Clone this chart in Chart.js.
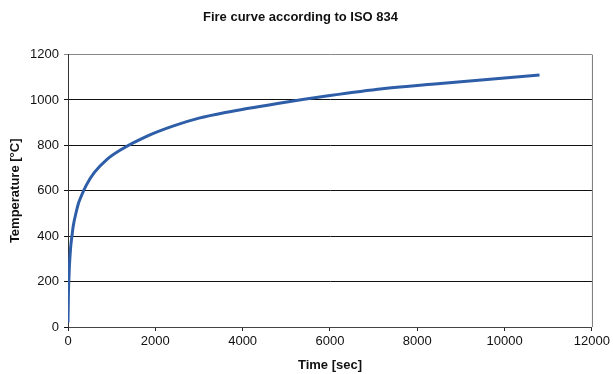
<!DOCTYPE html>
<html>
<head>
<meta charset="utf-8">
<script src="https://cdn.jsdelivr.net/npm/chart.js@4"></script>
<style>
  body { margin: 0; background: #fff; }
  canvas { display: block; }
</style>
</head>
<body>
<canvas id="fire-chart" width="613" height="374"></canvas>
<script>
// values (time in seconds, temperature in °C)
const timeSec = [0, 10, 20, 30, 60, 90, 120, 180, 240, 300, 420, 600, 900, 1200, 1800, 2400, 3000, 3600, 4800, 6000, 7200, 8400, 9600, 10800];
const tempC = [20, 150, 210, 260, 350, 400, 445, 500, 545, 575, 625, 680, 740, 780, 840, 885, 920, 945, 985, 1020, 1050, 1070, 1090, 1110];

const xTicks = [0, 2000, 4000, 6000, 8000, 10000, 12000];
const yTicks = [0, 200, 400, 600, 800, 1000, 1200];

const points = timeSec.map((t, i) => ({ x: t, y: tempC[i] }));

// grey frame on the right side of the plot area
const framePlugin = {
  id: "frame",
  afterDraw(chart) {
    const { ctx, chartArea } = chart;
    ctx.save();
    ctx.strokeStyle = "#777";
    ctx.lineWidth = 1;
    ctx.beginPath();
    ctx.moveTo(chartArea.right + 0.5, chartArea.top);
    ctx.lineTo(chartArea.right + 0.5, chartArea.bottom);
    ctx.stroke();
    ctx.restore();
  },
};

const chartConfig = {
  type: "scatter",
  data: {
    datasets: [
      {
        data: points,
        showLine: true,
        borderColor: "#2e5ea8",
        backgroundColor: "#2e5ea8",
        borderWidth: 3,
        pointRadius: 0,
        cubicInterpolationMode: "monotone",
      },
    ],
  },
  options: {
    responsive: false,
    animation: false,
    layout: { padding: { left: 8, right: 20, top: 0, bottom: 1 } },
    plugins: {
      legend: { display: false },
      tooltip: { enabled: false },
      title: {
        display: true,
        text: "Fire curve according to ISO 834",
        color: "#111",
        font: { family: "Liberation Sans", size: 13, weight: "bold" },
        padding: { top: 10, bottom: 29 },
      },
    },
    scales: {
      x: {
        type: "linear",
        min: 0,
        max: 12000,
        afterBuildTicks: (s) => { s.ticks = xTicks.map((v) => ({ value: v })); },
        afterFit: (s) => { s.height = 46; },
        ticks: {
          color: "#111",
          font: { family: "Liberation Sans", size: 13 },
          maxRotation: 0,
          padding: 3,
          callback: (v) => String(v),
        },
        grid: { drawOnChartArea: false, drawTicks: true, tickLength: 4, color: "#222" },
        border: { color: "#444", width: 1 },
        title: {
          display: true,
          text: "Time [sec]",
          color: "#111",
          font: { family: "Liberation Sans", size: 13, weight: "bold" },
          padding: { top: 1, bottom: 0 },
        },
      },
      y: {
        min: 0,
        max: 1200,
        afterBuildTicks: (s) => { s.ticks = yTicks.map((v) => ({ value: v })); },
        afterFit: (s) => { s.width = 60; },
        ticks: {
          color: "#111",
          font: { family: "Liberation Sans", size: 13 },
          padding: 5,
          callback: (v) => String(v),
        },
        grid: {
          color: (c) => (c.tick && c.tick.value === 1200 ? "#888" : "#111"),
          tickLength: 4,
        },
        border: { color: "#333", width: 1 },
        title: {
          display: true,
          text: "Temperature [°C]",
          color: "#111",
          font: { family: "Liberation Sans", size: 13, weight: "bold" },
          padding: { top: 0, bottom: 4 },
        },
      },
    },
  },
  plugins: [framePlugin],
};

const fireChart = new Chart(document.getElementById("fire-chart"), chartConfig);
</script>
</body>
</html>
